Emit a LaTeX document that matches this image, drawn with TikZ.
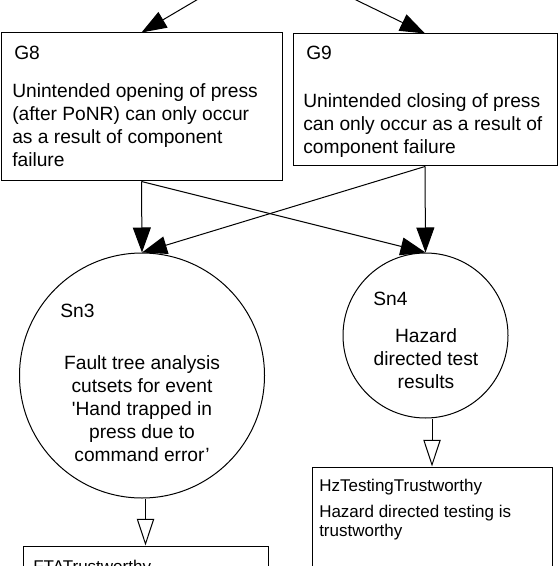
\documentclass[tikz,border=0pt]{standalone}
\usepackage{fontspec}
\setmainfont{Liberation Sans}
\usetikzlibrary{arrows.meta}
\begin{document}
\begin{tikzpicture}[x=0.75pt,y=-0.75pt,
  gbox/.style={draw,line width=0.75pt,rectangle,inner sep=0pt},
  snc/.style={draw,line width=0.75pt,circle,inner sep=0pt},
  big/.style={font=\fontsize{14.4}{17.25}\selectfont,inner sep=0pt},
  small/.style={font=\fontsize{12.75}{14.25}\selectfont,inner sep=0pt},
  solved/.style={line width=0.75pt,-{Triangle[length=18.75pt,width=13.5pt]}},
  ctx/.style={line width=0.75pt,-{Triangle[open,length=20pt,width=13pt]}}
]
\useasboundingbox (0,0) rectangle (558,566);
\clip (0,0) rectangle (558,566);
% boxes
\node[gbox,minimum width=210.75pt,minimum height=111pt] (G8) at (141.5,107) {};
\node[gbox,minimum width=198pt,minimum height=99pt] (G9) at (425,100) {};
\node[snc,minimum size=183.75pt] (Sn3) at (142,375.5) {};
\node[snc,minimum size=123.75pt] (Sn4) at (425.5,335.5) {};
\node[gbox,minimum width=183.75pt,minimum height=70.5pt] (FTA) at (145.5,593) {};
\node[gbox,minimum width=180pt,minimum height=84.75pt] (Hz) at (432,523.5) {};
% texts
\node[big,anchor=base west] (G8id) at (14,60) {G8};
\node[big,anchor=north west,align=left] (G8tx) at (12,83) {Unintended opening of press\\(after PoNR) can only occur\\as a result of component\\failure};
\node[big,anchor=base west] (G9id) at (306,60) {G9};
\node[big,anchor=north west,align=left] (G9tx) at (303,93) {Unintended closing of press\\can only occur as a result of\\component failure};
\node[big,anchor=base west] (Sn3id) at (60,317) {Sn3};
\node[big,anchor=north,align=center] (Sn3tx) at (142,355) {Fault tree analysis\\cutsets for event\\\textquotesingle Hand trapped in\\press due to\\command error'};
\node[big,anchor=base west] (Sn4id) at (373,305) {Sn4};
\node[big,anchor=north,align=center] (Sn4tx) at (426,328) {Hazard\\directed test\\results};
\node[small,anchor=base west] (Hzid) at (319,491) {HzTestingTrustworthy};
\node[small,anchor=north west,align=left] (Hztx) at (319,505) {Hazard directed testing is\\trustworthy};
\node[small,anchor=base west] (FTAid) at (33,572) {FTATrustworthy};
% connectors
\coordinate (t8) at (200,-2);
\coordinate (t9) at (352,-2);
\draw[solved] (t8) -- (G8.north);
\draw[solved] (t9) -- (G9.north);
\draw[solved] (G8.south) -- (Sn3.north);
\draw[solved] (G8.south) -- (Sn4.north);
\draw[solved] (G9.south) -- (Sn3.north);
\draw[solved] (G9.south) -- (Sn4.north);
\draw[ctx] (Sn3.south -| FTA.north) -- (FTA.north);
\draw[ctx] (Sn4.south -| Hz.north) -- (Hz.north);
\end{tikzpicture}
\end{document}
